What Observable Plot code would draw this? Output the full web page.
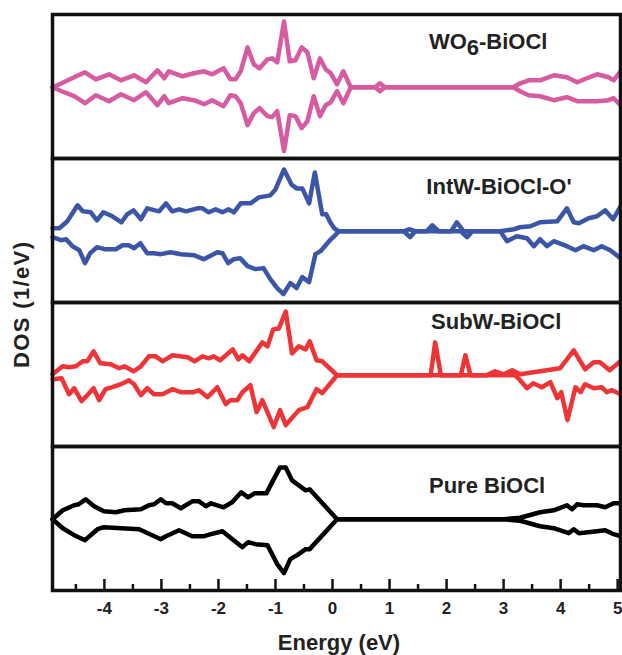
<!DOCTYPE html>
<html><head><meta charset="utf-8">
<script src="https://cdn.jsdelivr.net/npm/d3@7"></script>
<script src="https://cdn.jsdelivr.net/npm/@observablehq/plot@0.6"></script>
<style>body{margin:0;background:#fff} svg{display:block}</style>
</head><body><div id="chart"></div>
<script>
// Panels (top to bottom) and their colours
const panels = ["WO6-BiOCl", "IntW-BiOCl-O'", "SubW-BiOCl", "Pure BiOCl"];
const panelColors = ["#d65ba0", "#3b56a6", "#ee3436", "#000000"];

// Energy axis ticks (eV)
const xTicks = [-4, -3, -2, -1, 0, 1, 2, 3, 4, 5];
const xMinorTicks = [-4.5, -3.5, -2.5, -1.5, -0.5, 0.5, 1.5, 2.5, 3.5, 4.5];

// DOS (1/eV) as [energy, dos] — spin up (positive) and spin down (negative)
const wo6Up = [[-4.91,0],[-4.75,0.4],[-4.53,1.0],[-4.34,1.5],[-4.15,0.8],[-3.92,1.3],[-3.71,0.7],[-3.48,1.2],[-3.27,0.5],[-3.07,1.7],[-2.95,0.9],[-2.87,1.6],[-2.63,1.1],[-2.43,1.4],[-2.25,1.6],[-2.11,1.3],[-1.91,1.9],[-1.79,0.8],[-1.70,0.8],[-1.61,1.6],[-1.49,4.0],[-1.38,2.3],[-1.28,1.9],[-1.14,2.8],[-1.06,2.9],[-0.97,2.5],[-0.85,6.6],[-0.75,2.6],[-0.65,2.7],[-0.54,4.0],[-0.44,3.5],[-0.33,0.9],[-0.22,2.9],[-0.12,1.8],[-0.03,1.4],[0.08,0.3],[0.19,1.6],[0.32,0],[0.75,0],[0.83,0.4],[0.92,0],[3.17,0],[3.29,0.4],[3.44,0.7],[3.64,0.7],[3.88,1.2],[4.11,1.0],[4.29,0.5],[4.46,0.9],[4.64,1.3],[4.84,1.0],[4.93,0.7],[5.05,1.6]];
const wo6Down = [[-4.91,0],[-4.75,-0.4],[-4.53,-0.9],[-4.34,-1.6],[-4.15,-0.8],[-3.92,-1.4],[-3.71,-0.7],[-3.48,-1.3],[-3.27,-0.5],[-3.07,-1.8],[-2.95,-0.9],[-2.87,-1.6],[-2.63,-1.1],[-2.43,-1.3],[-2.25,-1.7],[-2.11,-1.3],[-1.91,-1.9],[-1.79,-0.8],[-1.70,-0.9],[-1.61,-1.6],[-1.49,-3.8],[-1.38,-2.6],[-1.28,-2.1],[-1.14,-2.9],[-1.06,-3.0],[-0.97,-2.4],[-0.85,-6.4],[-0.75,-2.8],[-0.65,-2.9],[-0.54,-4.1],[-0.44,-3.4],[-0.33,-0.9],[-0.22,-2.9],[-0.12,-1.8],[-0.03,-1.5],[0.08,-0.4],[0.19,-1.6],[0.32,0],[0.75,0],[0.83,-0.4],[0.92,0],[3.17,0],[3.29,-0.4],[3.44,-0.8],[3.64,-0.9],[3.88,-1.3],[4.11,-1.0],[4.29,-1.4],[4.46,-1.4],[4.64,-1.4],[4.84,-1.3],[4.93,-1.1],[5.05,-1.8]];

const intwUp = [[-4.91,0.3],[-4.79,0.3],[-4.65,1.0],[-4.47,2.6],[-4.38,2.0],[-4.24,1.9],[-4.13,1.1],[-4.02,1.9],[-3.86,1.5],[-3.70,0.9],[-3.60,1.7],[-3.49,2.1],[-3.36,1.2],[-3.25,2.3],[-3.04,2.0],[-2.92,2.8],[-2.81,2.0],[-2.69,2.2],[-2.57,2.0],[-2.37,2.3],[-2.28,2.3],[-2.17,1.9],[-2.05,2.2],[-1.93,1.9],[-1.82,2.2],[-1.73,1.9],[-1.61,2.8],[-1.44,2.8],[-1.29,3.4],[-1.09,3.6],[-1.00,4.2],[-0.85,6.2],[-0.72,4.7],[-0.63,4.3],[-0.53,4.3],[-0.41,2.8],[-0.31,5.9],[-0.18,1.7],[-0.11,1.7],[-0.04,0.9],[0.03,0.3],[0.11,0],[1.25,0],[1.34,0.2],[1.45,0],[1.65,0],[1.75,0.6],[1.86,0],[2.08,0],[2.18,0.9],[2.30,0],[2.94,0],[3.18,0.2],[3.29,0.4],[3.47,0.5],[3.64,0.9],[3.94,1.0],[4.11,2.3],[4.23,0.9],[4.32,0.8],[4.49,1.3],[4.64,1.5],[4.78,2.1],[4.92,1.2],[5.05,2.5]];
const intwDown = [[-4.91,-0.6],[-4.76,-0.9],[-4.67,-0.8],[-4.56,-1.5],[-4.44,-1.9],[-4.34,-3.2],[-4.25,-2.2],[-4.13,-1.6],[-4.00,-1.8],[-3.80,-1.8],[-3.68,-1.4],[-3.57,-1.4],[-3.48,-1.7],[-3.37,-1.2],[-3.25,-2.2],[-3.13,-2.2],[-3.01,-2.3],[-2.84,-2.1],[-2.66,-2.3],[-2.43,-2.4],[-2.26,-2.8],[-2.12,-2.4],[-2.02,-2.1],[-1.93,-2.2],[-1.83,-3.2],[-1.73,-2.8],[-1.62,-2.7],[-1.49,-3.5],[-1.35,-3.8],[-1.21,-3.7],[-1.09,-4.8],[-0.97,-5.7],[-0.86,-6.3],[-0.74,-5.2],[-0.63,-5.7],[-0.53,-4.6],[-0.41,-5.1],[-0.30,-2.3],[-0.21,-2.0],[-0.06,-1.0],[0.03,-0.5],[0.11,0],[1.25,0],[1.36,-0.6],[1.45,0],[2.25,0],[2.36,-0.6],[2.45,0],[2.94,0],[3.06,-1.0],[3.23,-0.5],[3.41,-0.7],[3.53,-1.5],[3.64,-0.8],[3.76,-1.5],[3.88,-1.0],[4.11,-1.5],[4.26,-1.9],[4.40,-1.5],[4.58,-1.9],[4.72,-1.5],[4.87,-1.9],[5.05,-2.7]];

const subwUp = [[-4.91,0.1],[-4.73,0.9],[-4.62,0.8],[-4.50,0.9],[-4.38,1.4],[-4.30,1.4],[-4.19,2.4],[-4.07,1.2],[-3.89,1.1],[-3.74,0.7],[-3.65,0.9],[-3.49,0.4],[-3.36,0.9],[-3.22,1.9],[-3.10,1.9],[-2.98,1.4],[-2.81,2.0],[-2.54,1.8],[-2.42,1.4],[-2.28,1.9],[-2.17,1.7],[-2.08,1.9],[-1.97,1.5],[-1.75,2.6],[-1.65,1.6],[-1.58,2.0],[-1.46,1.4],[-1.23,3.3],[-1.14,2.9],[-1.04,4.6],[-0.94,4.7],[-0.82,6.4],[-0.71,2.2],[-0.59,2.9],[-0.47,2.6],[-0.40,3.4],[-0.28,1.5],[-0.18,1.4],[0.08,0],[1.72,0],[1.80,3.3],[1.90,0],[2.25,0],[2.33,2.0],[2.42,0],[2.70,0],[2.85,0.4],[3.00,0.1],[3.15,0.5],[3.29,0.1],[3.99,0.7],[4.23,2.5],[4.43,0.6],[4.58,1.3],[4.69,1.3],[4.86,0.5],[5.05,1.4]];
const subwDown = [[-4.91,-0.4],[-4.75,-0.3],[-4.62,-1.9],[-4.53,-1.3],[-4.40,-2.6],[-4.30,-2.0],[-4.19,-1.3],[-4.09,-2.5],[-3.98,-1.4],[-3.86,-1.2],[-3.71,-0.9],[-3.57,-0.5],[-3.48,-0.9],[-3.36,-2.0],[-3.25,-1.3],[-3.13,-1.9],[-2.98,-1.9],[-2.81,-1.4],[-2.66,-1.7],[-2.43,-1.7],[-2.34,-1.5],[-2.19,-2.2],[-2.02,-1.2],[-1.87,-2.9],[-1.79,-2.5],[-1.67,-2.5],[-1.58,-1.7],[-1.44,-1.0],[-1.33,-3.7],[-1.23,-2.5],[-1.03,-5.2],[-0.92,-3.5],[-0.82,-5.0],[-0.59,-3.5],[-0.44,-3.2],[-0.28,-1.4],[-0.18,-1.8],[0.08,0],[3.20,0],[3.29,-0.5],[3.41,-1.3],[3.52,-0.8],[3.67,-1.2],[3.82,-0.7],[3.94,-2.3],[4.01,-1.7],[4.12,-4.5],[4.26,-1.2],[4.35,-1.7],[4.43,-0.9],[4.58,-1.3],[4.72,-1.2],[4.81,-1.7],[4.90,-1.5],[5.05,-1.9]];

const pureUp = [[-4.91,0],[-4.73,0.9],[-4.53,1.4],[-4.45,1.5],[-4.33,2.0],[-4.18,1.3],[-4.01,0.8],[-3.80,0.7],[-3.65,0.9],[-3.36,1.0],[-3.22,1.4],[-3.13,1.5],[-3.01,2.0],[-2.92,1.6],[-2.81,1.6],[-2.66,1.1],[-2.46,1.8],[-2.34,1.8],[-2.22,1.3],[-2.13,1.6],[-1.91,1.2],[-1.76,1.7],[-1.60,2.7],[-1.48,2.2],[-1.37,2.6],[-1.16,2.6],[-1.06,3.7],[-0.92,5.2],[-0.82,5.2],[-0.71,3.9],[-0.59,3.4],[-0.47,2.9],[-0.40,3.0],[0.08,0],[3.00,0],[3.29,0.15],[3.64,0.7],[3.88,0.9],[4.11,1.4],[4.20,1.0],[4.29,1.5],[4.40,1.4],[4.64,1.4],[4.78,1.2],[4.93,1.6],[5.05,1.6]];
const pureDown = [[-4.91,0],[-4.73,-0.9],[-4.53,-1.6],[-4.34,-2.1],[-4.12,-1.0],[-4.01,-0.8],[-3.39,-1.0],[-3.01,-2.0],[-2.92,-1.7],[-2.69,-1.1],[-2.46,-1.7],[-2.25,-1.7],[-2.13,-1.5],[-1.93,-1.2],[-1.58,-2.8],[-1.48,-2.3],[-1.35,-2.5],[-1.14,-2.6],[-0.97,-4.5],[-0.85,-5.4],[-0.74,-4.0],[-0.62,-3.6],[-0.47,-3.0],[-0.40,-3.0],[0.08,0],[3.00,0],[3.29,-0.15],[3.64,-0.7],[3.88,-0.9],[4.14,-1.4],[4.23,-1.0],[4.32,-1.4],[4.64,-1.2],[4.78,-1.1],[4.93,-1.5],[5.05,-1.7]];

const series = [
  {panel: panels[0], spin: "up", points: wo6Up}, {panel: panels[0], spin: "down", points: wo6Down},
  {panel: panels[1], spin: "up", points: intwUp}, {panel: panels[1], spin: "down", points: intwDown},
  {panel: panels[2], spin: "up", points: subwUp}, {panel: panels[2], spin: "down", points: subwDown},
  {panel: panels[3], spin: "up", points: pureUp}, {panel: panels[3], spin: "down", points: pureDown}
];
const rows = series.flatMap(s => s.points.map(([E, dos]) => ({panel: s.panel, spin: s.spin, E, dos})));

// label placement (energy, dos) inside each panel
const labelPlacement = [[2.73, 3.8], [2.92, 3.7], [2.87, 4.6], [2.71, 2.6]];
const labelRows = panels.map((p, i) => ({panel: p, E: labelPlacement[i][0], dos: labelPlacement[i][1]}));

const chart = Plot.plot({
  width: 622, height: 655,
  marginLeft: 52, marginRight: 2, marginTop: 13, marginBottom: 65,
  style: {fontFamily: "'Liberation Sans', Arial, sans-serif", background: "#fff", color: "#222"},
  x: {domain: [-4.91, 5.05], axis: null},
  y: {domain: [-7.15, 7.3], axis: null},
  fy: {domain: panels, padding: 0, axis: null},
  color: {domain: panels, range: panelColors},
  marks: [
    Plot.line(rows, {x: "E", y: "dos", fy: "panel", z: "spin", stroke: "panel", strokeWidth: 4.5}),
    Plot.frame({stroke: "#111", strokeWidth: 3.5}),
    Plot.tickX(xTicks, {x: d => d, fy: () => panels[3], insetTop: 133, stroke: "#111", strokeWidth: 2.5}),
    Plot.tickX(xMinorTicks, {x: d => d, fy: () => panels[3], insetTop: 138, stroke: "#111", strokeWidth: 2.5}),
    Plot.axisX(xTicks, {tickSize: 0, tickPadding: 11, tickFormat: d => String(d), fontSize: 17, fontWeight: "bold", label: null}),
    Plot.text(labelRows, {x: "E", y: "dos", fy: "panel", text: "panel", fontSize: 22, fontWeight: "bold", lineAnchor: "bottom", fill: "#222"})
  ]
});

document.getElementById("chart").appendChild(chart);
const svg = d3.select(chart);

// subscript in WO6 label
svg.selectAll("text").filter(function() { return this.textContent === "WO6-BiOCl"; }).each(function() {
  const t = d3.select(this);
  t.text(null);
  t.append("tspan").text("WO");
  t.append("tspan").attr("dy", "0.25em").text("6");
  t.append("tspan").attr("dy", "-0.25em").text("-BiOCl");
});

// axis titles
svg.append("text").attr("x", 339).attr("y", 650).attr("text-anchor", "middle")
  .attr("font-size", 22).attr("font-weight", "bold").attr("fill", "#222").text("Energy (eV)");
svg.append("text").attr("transform", "translate(29,305) rotate(-90)").attr("text-anchor", "middle")
  .attr("font-size", 22).attr("font-weight", "bold").attr("fill", "#222")
  .attr("textLength", 126).attr("lengthAdjust", "spacing").text("DOS (1/eV)");
</script>
</body></html>
